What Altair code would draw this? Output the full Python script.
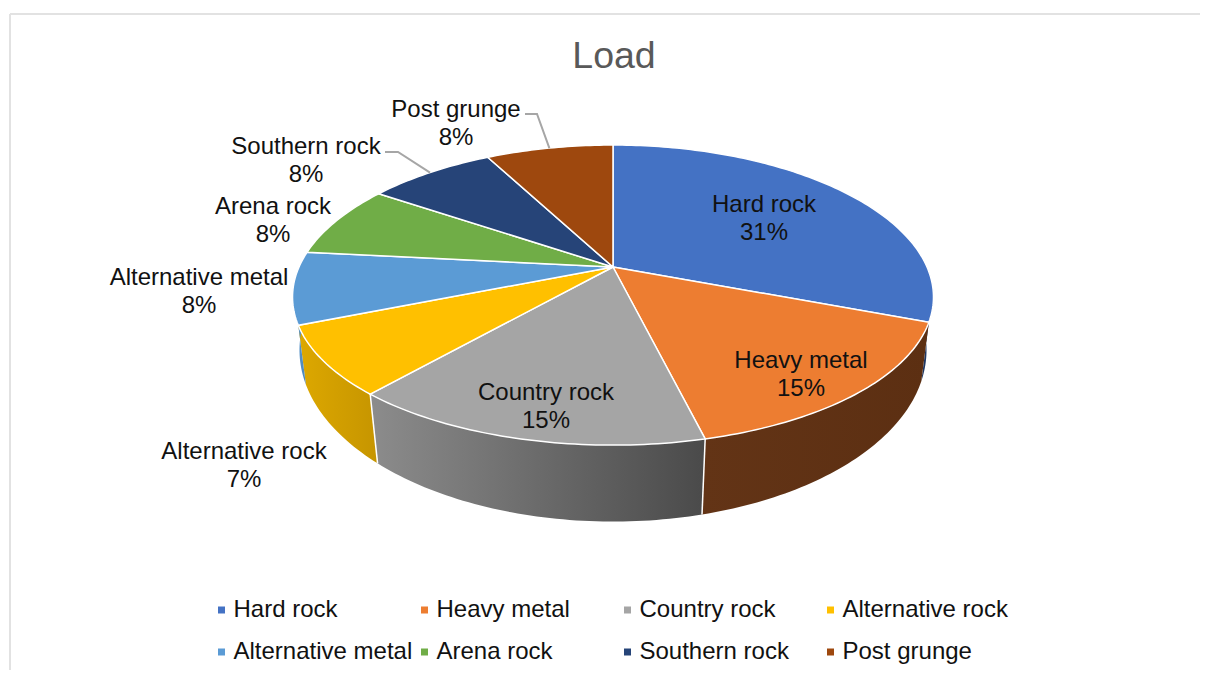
import math
import altair as alt

CATEGORIES = ["Hard rock", "Heavy metal", "Country rock", "Alternative rock",
              "Alternative metal", "Arena rock", "Southern rock", "Post grunge"]
SHARES = [30.8, 15.4, 15.2, 7.49, 7.77, 7.78, 7.78, 7.78]
COLORS = ["#4472C4", "#ED7D31", "#A5A5A5", "#FFC000",
          "#5B9BD5", "#70AD47", "#264478", "#9E480E"]
WALL_COLORS = [("#1F3864", "#1F3864"), ("#633416", "#5C2F12"), ("#8C8C8C", "#4A4A4A"),
               ("#DDA800", "#C69500"), ("#5B9BD5", "#4E86B8")]
FONT = "Liberation Sans"
INK = "#111111"

PAD_TOP = 60
W, H = 1192, 662 - PAD_TOP
OX, OY = 8, 8 + PAD_TOP


def ring(theta, f, kx, g, k, cy):
    """Perspective projection of a disc rim point, in plot pixels."""
    X, Y = math.sin(theta), math.cos(theta)
    return [613 + f * X / (1 + kx * Y) - OX, cy - g * Y / (1 + k * Y) - OY]


def top(theta):
    return ring(theta, 314, 0.2, 144.8, 0.187, 267)


def bottom(theta):
    return ring(theta, 308, 0.187, 165.5, 0.187, 318)


def arc(fn, a, b):
    n = max(2, int(abs(b - a) / math.radians(1)))
    return [fn(a + (b - a) * i / n) for i in range(n + 1)]


total = sum(SHARES)
edges = [0.0]
for s in SHARES:
    edges.append(edges[-1] + s / total * 2 * math.pi)

PROJ = alt.Projection(type="identity", scale=1, translate=[0, 0])

layers = []

# side walls of the front half
for i in range(len(CATEGORIES)):
    a = max(edges[i], math.pi / 2)
    b = min(edges[i + 1], 3 * math.pi / 2)
    if a >= b:
        continue
    poly = arc(top, a, b) + arc(bottom, b, a)
    poly.append(poly[0])
    feature = {"type": "Feature", "geometry": {"type": "Polygon", "coordinates": [poly]},
               "properties": {"name": CATEGORIES[i]}}
    c0, c1 = WALL_COLORS[i]
    layers.append(
        alt.Chart(alt.Data(values=[feature])).mark_geoshape(
            fill=alt.LinearGradient(
                gradient="linear", x1=0, x2=1, y1=0, y2=0,
                stops=[alt.GradientStop(color=c0, offset=0), alt.GradientStop(color=c1, offset=1)],
            ),
            strokeWidth=0,
        ).project(**PROJ.to_dict())
    )

# white dividers between the walls that show them
for i in (2, 3):
    seam = {"type": "Feature", "properties": {},
            "geometry": {"type": "LineString", "coordinates": [top(edges[i]), bottom(edges[i])]}}
    layers.append(
        alt.Chart(alt.Data(values=[seam])).mark_geoshape(
            filled=False, stroke="white", strokeWidth=1.5
        ).project(**PROJ.to_dict())
    )

# top faces
apex = [613 - OX, 267 - OY]
faces = []
for i, name in enumerate(CATEGORIES):
    poly = [apex] + arc(top, edges[i], edges[i + 1]) + [apex]
    faces.append({"type": "Feature", "geometry": {"type": "Polygon", "coordinates": [poly]},
                  "properties": {"name": name}})

layers.append(
    alt.Chart(alt.Data(values=faces)).mark_geoshape(stroke="white", strokeWidth=1.5).encode(
        color=alt.Color(
            "properties.name:N",
            scale=alt.Scale(domain=CATEGORIES, range=COLORS),
            sort=CATEGORIES,
            legend=alt.Legend(
                title=None, orient="none", legendX=201.5, legendY=598 - OY, direction="horizontal",
                columns=4, symbolType="square", symbolSize=49, symbolStrokeWidth=0, padding=0,
                labelFont=FONT, labelFontSize=24, labelColor=INK, labelLimit=400,
                labelOffset=0, columnPadding=0, rowPadding=18, gridAlign="all",
            ),
        )
    ).project(**PROJ.to_dict())
)

# leader lines
LEADER_ANCHORS = {"Southern rock": [(385, 152), (398, 152)], "Post grunge": [(525, 114), (537, 114)]}
for name, pts in LEADER_ANCHORS.items():
    i = CATEGORIES.index(name)
    end = top((edges[i] + edges[i + 1]) / 2)
    line = [[x - OX, y - OY] for x, y in pts] + [end]
    feature = {"type": "Feature", "geometry": {"type": "LineString", "coordinates": line}, "properties": {}}
    layers.append(
        alt.Chart(alt.Data(values=[feature])).mark_geoshape(
            filled=False, stroke="#A6A6A6", strokeWidth=2
        ).project(**PROJ.to_dict())
    )

# data labels (centre of the first line on the page; second line follows)
LABEL_POS = [(764, 204.5), (801, 360.5), (546, 392.5), (244, 451.5), (199, 277.5), (273, 206.5), (306, 146.5), (456, 109.5)]
for name, s, (x, y) in zip(CATEGORIES, SHARES, LABEL_POS):
    layers.append(
        alt.Chart(alt.Data(values=[{"n": 1}])).mark_text(
            text=[name, f"{round(s / total * 100)}%"], font=FONT, fontSize=24, color=INK,
            align="center", baseline="middle", lineHeight=28,
        ).encode(x=alt.value(x - OX), y=alt.value(y - OY))
    )

# chart frame
one = alt.Data(values=[{"n": 1}])
layers.append(alt.Chart(one).mark_rule(color="#E2E2E2", strokeWidth=2).encode(
    x=alt.value(10 - OX), x2=alt.value(1208 - OX), y=alt.value(14 - OY), y2=alt.value(14 - OY)))
layers.append(alt.Chart(one).mark_rule(color="#E2E2E2", strokeWidth=2).encode(
    x=alt.value(10 - OX), x2=alt.value(10 - OX), y=alt.value(14 - OY), y2=alt.value(678 - OY)))

chart = alt.layer(*layers).properties(
    width=W, height=H,
    title=alt.TitleParams(text="Load", font=FONT, fontSize=37.5, fontWeight="normal", color="#595959",
                          anchor="middle", dx=10, offset=-62),
    padding={"left": 0, "top": PAD_TOP, "right": 0, "bottom": 0},
    autosize=alt.AutoSizeParams(type="none"),
).configure_view(stroke=None)

chart.save("out.html", embed_options={"renderer": "svg", "actions": False})
